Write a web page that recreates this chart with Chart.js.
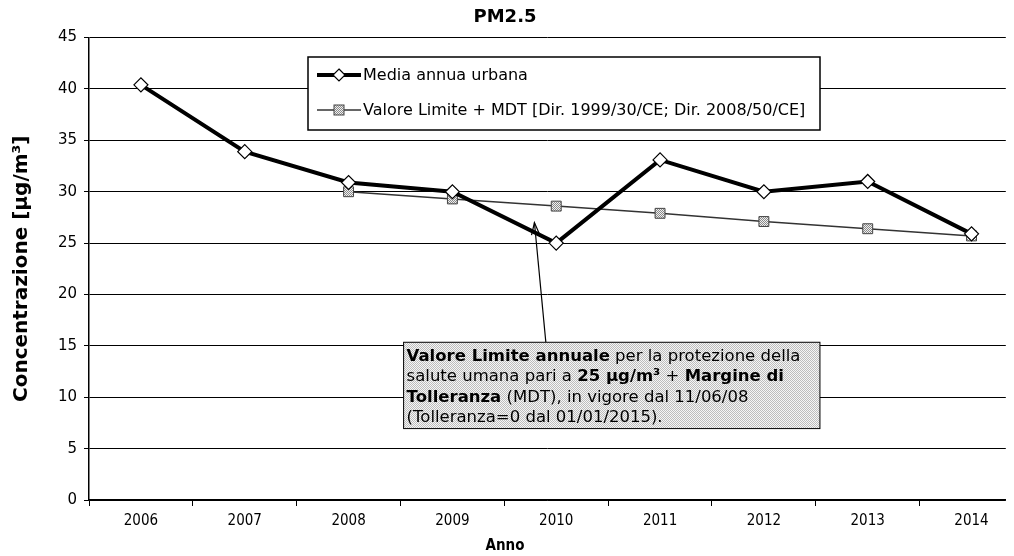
<!DOCTYPE html>
<html>
<head>
<meta charset="utf-8">
<script src="https://cdn.jsdelivr.net/npm/chart.js@4.4.0/dist/chart.umd.min.js"></script>
<style>
  html, body { margin: 0; padding: 0; background: #fff; overflow: hidden; }
  #wrap { width: 1014px; height: 556px; }
</style>
</head>
<body>
<div id="wrap"><canvas id="chart"></canvas></div>
<script>
const years = [2006, 2007, 2008, 2009, 2010, 2011, 2012, 2013, 2014];
const mediaUrbana = [40.4, 33.9, 30.9, 30.0, 25.0, 33.1, 30.0, 31.0, 25.9];
const valoreLimite = [null, null, 30.0, 29.3, 28.6, 27.9, 27.1, 26.4, 25.7];
const yTicks = [0, 5, 10, 15, 20, 25, 30, 35, 40, 45];

const seriesLabels = ['Media annua urbana', 'Valore Limite + MDT [Dir. 1999/30/CE; Dir. 2008/50/CE]'];

// annotation text, split in bold / normal runs
const noteLines = [
  [['Valore Limite annuale', true], [' per la protezione della', false]],
  [['salute umana pari a ', false], ['25 \u00b5g/m\u00b3', true], [' + ', false], ['Margine di', true]],
  [['Tolleranza', true], [' (MDT), in vigore dal 11/06/08', false]],
  [['(Tolleranza=0 dal 01/01/2015).', false]]
];

const FONT = '"DejaVu Sans", Verdana, sans-serif';
const FONT_C = '"DejaVu Sans Condensed", "DejaVu Sans", sans-serif';

const canvas = document.getElementById('chart');
const ctx = canvas.getContext('2d');

function dither(a, b) {
  const c = document.createElement('canvas');
  c.width = 2; c.height = 2;
  const g = c.getContext('2d');
  g.fillStyle = a; g.fillRect(0, 0, 2, 2);
  g.fillStyle = b; g.fillRect(0, 0, 1, 1); g.fillRect(1, 1, 1, 1);
  return ctx.createPattern(c, 'repeat');
}
const markerFill = dither('#f0f0f0', '#8a8a8a');
const boxFill = dither('#f6f6f6', '#bdbdbd');

const toPoints = (arr) => years.map((y, i) => ({ x: y, y: arr[i] })).filter(p => p.y !== null);

// x ticks: years get labels, half-years get the tick marks
const xTickValues = [];
years.forEach(y => { xTickValues.push(y - 0.5); xTickValues.push(y); });

function drawDiamond(g, x, y, r) {
  g.beginPath();
  g.moveTo(x, y - r); g.lineTo(x + r, y); g.lineTo(x, y + r); g.lineTo(x - r, y); g.closePath();
  g.fillStyle = '#fff'; g.fill();
  g.lineWidth = 1.2; g.strokeStyle = '#000'; g.stroke();
}

const legendBox = {
  id: 'legendBox',
  afterDraw(chart) {
    const g = chart.ctx;
    const x0 = 308, y0 = 57, w = 512, h = 73;
    g.save();
    g.fillStyle = '#fff';
    g.fillRect(x0, y0, w, h);
    g.lineWidth = 1.5; g.strokeStyle = '#000';
    g.strokeRect(x0, y0, w, h);
    g.font = '16px ' + FONT;
    g.textBaseline = 'middle';
    // entry 1
    let y = 75;
    g.beginPath(); g.moveTo(317, y); g.lineTo(361, y);
    g.lineWidth = 4; g.strokeStyle = '#000'; g.stroke();
    drawDiamond(g, 339, y, 6);
    g.fillStyle = '#000';
    g.fillText(seriesLabels[0], 363, y + 1);
    // entry 2
    y = 110;
    g.beginPath(); g.moveTo(317, y); g.lineTo(361, y);
    g.lineWidth = 1.5; g.strokeStyle = '#333'; g.stroke();
    g.fillStyle = markerFill; g.fillRect(334, y - 5, 10, 10);
    g.lineWidth = 1; g.strokeStyle = '#444'; g.strokeRect(334, y - 5, 10, 10);
    g.fillStyle = '#000';
    g.fillText(seriesLabels[1], 363, y + 1);
    g.restore();
  }
};

const noteBox = {
  id: 'noteBox',
  afterDatasetsDraw(chart) {
    const g = chart.ctx;
    const xs = chart.scales.x, ys = chart.scales.y;
    const left = xs.getPixelForValue(2008.53), right = xs.getPixelForValue(2012.54);
    const top = ys.getPixelForValue(15.35), bottom = ys.getPixelForValue(6.95);
    const tipX = xs.getPixelForValue(2009.79), tipY = ys.getPixelForValue(27.0);
    const baseX = xs.getPixelForValue(2009.90), baseY = top;
    g.save();
    // arrow
    g.beginPath(); g.moveTo(baseX, baseY); g.lineTo(tipX, tipY);
    g.lineWidth = 1.2; g.strokeStyle = '#000'; g.stroke();
    const ang = Math.atan2(tipY - baseY, tipX - baseX);
    const al = 13, aw = 0.32;
    g.beginPath();
    g.moveTo(tipX - al * Math.cos(ang - aw), tipY - al * Math.sin(ang - aw));
    g.lineTo(tipX, tipY);
    g.lineTo(tipX - al * Math.cos(ang + aw), tipY - al * Math.sin(ang + aw));
    g.stroke();
    // box
    g.fillStyle = boxFill;
    g.fillRect(left, top, right - left, bottom - top);
    g.lineWidth = 1; g.strokeStyle = '#000';
    g.strokeRect(left, top, right - left, bottom - top);
    g.textBaseline = 'middle';
    g.fillStyle = '#000';
    noteLines.forEach((runs, i) => {
      let x = left + 3;
      const y = top + 14 + i * 20.5;
      runs.forEach(([t, bold]) => {
        g.font = (bold ? 'bold ' : '') + '16.5px ' + FONT;
        g.fillText(t, x, y);
        x += g.measureText(t).width;
      });
    });
    g.restore();
  }
};

new Chart(canvas, {
  type: 'line',
  data: {
    datasets: [
      {
        label: seriesLabels[1],
        data: toPoints(valoreLimite),
        borderColor: '#333',
        borderWidth: 1.5,
        pointStyle: 'rect',
        pointRadius: 7,
        pointBackgroundColor: markerFill,
        pointBorderColor: '#444',
        pointBorderWidth: 1,
        tension: 0,
        order: 2
      },
      {
        label: seriesLabels[0],
        data: toPoints(mediaUrbana),
        borderColor: '#000',
        borderWidth: 4,
        pointStyle: 'rectRot',
        pointRadius: 7,
        pointBackgroundColor: '#fff',
        pointBorderColor: '#000',
        pointBorderWidth: 1.2,
        tension: 0,
        order: 1
      }
    ]
  },
  options: {
    responsive: true,
    maintainAspectRatio: false,
    animation: false,
    layout: { padding: { left: 0, right: 4, top: 0, bottom: 0 } },
    plugins: {
      legend: { display: false },
      tooltip: { enabled: false },
      title: {
        display: true,
        text: 'PM2.5',
        color: '#000',
        font: { family: FONT, size: 18, weight: 'bold' },
        padding: { top: 7, bottom: 9 }
      },
      subtitle: {
        display: true,
        position: 'bottom',
        text: 'Anno',
        color: '#000',
        font: { family: FONT_C, size: 15, weight: 'bold' },
        padding: { top: 0, bottom: 1 }
      }
    },
    scales: {
      x: {
        type: 'linear',
        min: 2005.5,
        max: 2014.33,
        afterBuildTicks: (s) => { s.ticks = xTickValues.map(v => ({ value: v })); },
        afterFit: (s) => { s.height = 37; },
        ticks: {
          autoSkip: false,
          maxRotation: 0,
          padding: 6,
          color: '#000',
          font: { family: FONT_C, size: 15 },
          callback: (v) => (Number.isInteger(v) ? String(v) : '')
        },
        grid: {
          drawOnChartArea: false,
          drawTicks: true,
          tickLength: 6,
          color: (c) => (c.tick && !Number.isInteger(c.tick.value) ? '#000' : 'rgba(0,0,0,0)')
        },
        border: { display: true, color: '#000', width: 1.5 }
      },
      y: {
        min: 0,
        max: 45,
        afterBuildTicks: (s) => { s.ticks = yTicks.map(v => ({ value: v })); },
        afterFit: (s) => { s.width = 89; },
        ticks: {
          padding: 7,
          color: '#000',
          font: { family: FONT, size: 15 }
        },
        grid: { color: '#000', lineWidth: 1, tickLength: 5 },
        border: { display: true, color: '#000', width: 1.5 },
        title: {
          display: true,
          text: 'Concentrazione [\u00b5g/m\u00b3]',
          color: '#000',
          font: { family: FONT, size: 20, weight: 'bold' },
          padding: { top: 10, bottom: 4 }
        }
      }
    }
  },
  plugins: [noteBox, legendBox]
});
</script>
</body>
</html>
